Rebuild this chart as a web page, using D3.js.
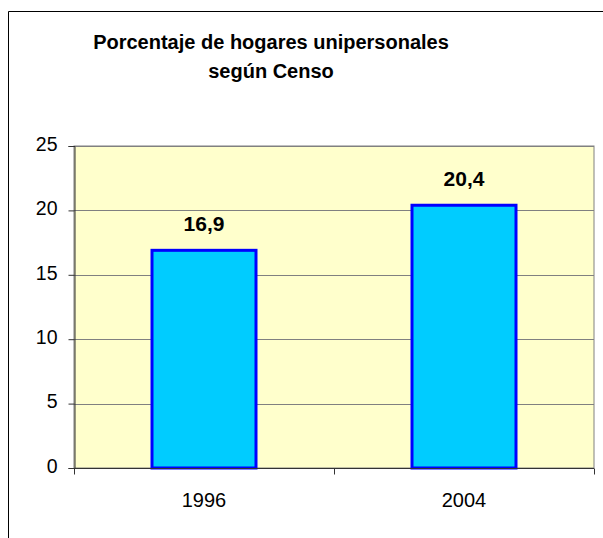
<!DOCTYPE html>
<html>
<head>
<meta charset="utf-8">
<script src="https://cdn.jsdelivr.net/npm/d3@7"></script>
<style>
  body { margin: 0; background: #fff; }
  text { font-family: Arial, "Liberation Sans", sans-serif; }
</style>
</head>
<body>
<div id="chart"></div>
<script>
    // data
    var years  = ["1996", "2004"];
    var values = [16.9, 20.4];
    var yTicks = [0, 5, 10, 15, 20, 25];
    var titleLines = ["Porcentaje de hogares unipersonales", "según Censo"];

    var width = 603, height = 538;
    var plot = {left: 74, top: 146, right: 594, bottom: 468};

    var svg = d3.select("#chart")
        .append("svg")
        .attr("width", width)
        .attr("height", height);

    // outer chart frame (runs off the right and bottom of the window)
    svg.append("path")
        .attr("d", "M8.5," + height + "V11.5H" + width)
        .attr("fill", "none")
        .attr("stroke", "#000")
        .attr("stroke-width", 1);

    var x = d3.scaleBand()
        .domain(years)
        .range([plot.left, plot.right])
        .paddingInner(0.6)
        .paddingOuter(0.3);

    var y = d3.scaleLinear()
        .domain([0, 25])
        .range([plot.bottom, plot.top]);

    // plot area
    svg.append("rect")
        .attr("x", plot.left)
        .attr("y", plot.top)
        .attr("width", plot.right - plot.left)
        .attr("height", plot.bottom - plot.top)
        .attr("fill", "#FFFFCC")
        .attr("stroke", "#808080")
        .attr("stroke-width", 1);

    // gridlines
    svg.append("g")
        .selectAll("line")
        .data(yTicks.filter(function (d) { return d > 0; }))
        .enter()
        .append("line")
        .attr("x1", plot.left)
        .attr("x2", plot.right)
        .attr("y1", function (d) { return Math.round(y(d)) + 0.5; })
        .attr("y2", function (d) { return Math.round(y(d)) + 0.5; })
        .attr("stroke", "#808080")
        .attr("stroke-width", 1);

    // bars
    svg.append("g")
        .selectAll("rect")
        .data(values)
        .enter()
        .append("rect")
        .attr("x", function (d, i) { return x(years[i]); })
        .attr("y", function (d) { return y(d); })
        .attr("width", x.bandwidth())
        .attr("height", function (d) { return y(0) - y(d); })
        .attr("fill", "#00CCFF")
        .attr("stroke", "#0000FF")
        .attr("stroke-width", 3);

    // value labels
    svg.append("g")
        .selectAll("text")
        .data(values)
        .enter()
        .append("text")
        .attr("x", function (d, i) { return x(years[i]) + x.bandwidth() / 2; })
        .attr("y", function (d) { return y(d) - 19.5; })
        .attr("text-anchor", "middle")
        .attr("font-size", "21px")
        .attr("font-weight", "bold")
        .text(function (d) { return String(d).replace(".", ","); });

    // y axis
    var yAxis = d3.axisLeft(y)
        .tickValues(yTicks)
        .tickSize(6)
        .tickPadding(11)
        .tickFormat(d3.format("d"));

    var gy = svg.append("g")
        .attr("transform", "translate(" + (plot.left + 0.5) + ",0)")
        .call(yAxis);
    gy.select(".domain").attr("stroke", "#333");
    gy.selectAll(".tick line").attr("stroke", "#333");
    gy.selectAll(".tick text")
        .attr("font-size", "19.5px")
        .attr("font-family", "Arial, 'Liberation Sans', sans-serif")
        .attr("fill", "#000")
        .attr("dy", "0.22em");

    // x axis: ticks sit between the categories
    var gx = svg.append("g")
        .attr("transform", "translate(0," + (plot.bottom + 0.5) + ")");
    gx.append("line")
        .attr("x1", plot.left)
        .attr("x2", plot.right)
        .attr("stroke", "#333");
    var bounds = [plot.left, (plot.left + plot.right) / 2, plot.right];
    gx.selectAll(".sep")
        .data(bounds)
        .enter()
        .append("line")
        .attr("class", "sep")
        .attr("x1", function (d) { return Math.round(d) + 0.5; })
        .attr("x2", function (d) { return Math.round(d) + 0.5; })
        .attr("y1", 0)
        .attr("y2", 6)
        .attr("stroke", "#333");
    gx.selectAll(".lbl")
        .data(years)
        .enter()
        .append("text")
        .attr("class", "lbl")
        .attr("x", function (d) { return x(d) + x.bandwidth() / 2; })
        .attr("y", 38)
        .attr("text-anchor", "middle")
        .attr("font-size", "20px")
        .text(function (d) { return d; });

    // title
    svg.append("g")
        .selectAll("text")
        .data(titleLines)
        .enter()
        .append("text")
        .attr("x", 271)
        .attr("y", function (d, i) { return 49 + i * 29; })
        .attr("text-anchor", "middle")
        .attr("font-size", "20px")
        .attr("font-weight", "bold")
        .text(function (d) { return d; });
</script>
</body>
</html>
